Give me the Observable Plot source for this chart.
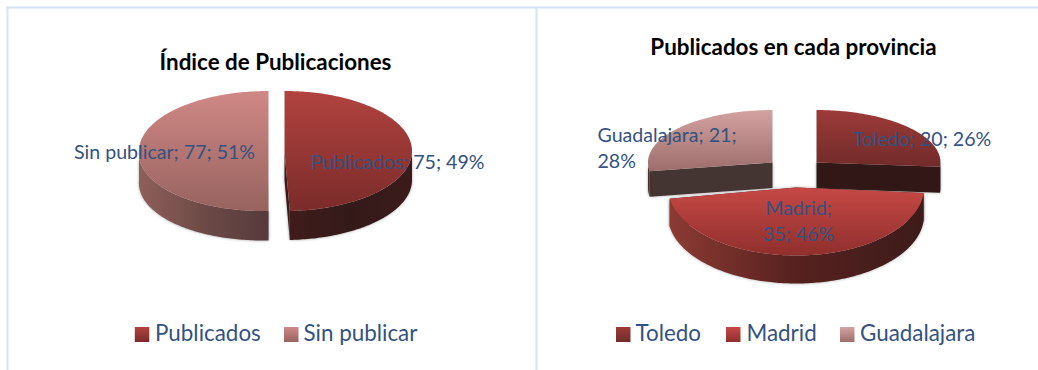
<!DOCTYPE html>
<html><head><meta charset="utf-8">
<script src="https://cdn.jsdelivr.net/npm/d3@7"></script>
<script src="https://cdn.jsdelivr.net/npm/@observablehq/plot@0.6"></script>
<style>
html,body{margin:0;padding:0;background:#fff;overflow:hidden}
svg{display:block}
.wall{filter:drop-shadow(0 0 1.5px rgba(60,50,50,.45))}
</style></head><body><div id="chart"></div>
<script>
// ---- data ----
const indexCategories = ["Publicados", "Sin publicar"];
const indexValues = [75, 77];
const provinceCategories = ["Toledo", "Madrid", "Guadalajara"];
const provinceValues = [20, 35, 21];
const titles = ["Índice de Publicaciones", "Publicados en cada provincia"];

// ---- layout ----
const W = 1038, H = 370;
const indexLayout = [
  {cx:284, cy:150.5, rx:127.5, ry:60, depth:29, skew:0},
  {cx:268, cy:150.5, rx:129.5, ry:60, depth:29.5, skew:-5.3}
];
const provinceLayout = [
  {cx:816, cy:162, rx:124, ry:52.5, depth:26, skew:0},
  {cx:795.5, cy:187, rx:128, ry:68, depth:28, skew:0},
  {cx:772, cy:162, rx:124.5, ry:52.5, depth:25.5, skew:0}
];
const indexPaint = [
  {top:["#b2433f","#7a2b2a"], wall:["#3f1c1b","#331a19","#3b1b1a"], cut:"#3a1a19"},
  {top:["#d08885","#97635f"], wall:["#8f5f5a","#6d4a47","#553b3b"], cut:"#6d4a47"}
];
const provincePaint = [
  {top:["#9c3b38","#712b2a"], wall:["#311816","#321917","#2f1715"], cut:"#311816"},
  {top:["#c64845","#8f2f2d"], wall:["#8c3a33","#56211e","#3c1c1a"], cut:"#56211e"},
  {top:["#d4a3a1","#9c6d6b"], wall:["#443432","#443432","#443432"], cut:"#443432"}
];
const legendItems = [
  {group:0, i:0, x:134.8, tx:154.5},
  {group:0, i:1, x:284, tx:303},
  {group:1, i:0, x:616, tx:635},
  {group:1, i:1, x:726, tx:746},
  {group:1, i:2, x:840, tx:859.5}
];
const dataLabelLayout = [
  [{x:310, y:160.5, a:"start", wrap:false}, {x:73.5, y:150, a:"start", wrap:false}],
  [{x:852, y:137.5, a:"start", wrap:false}, {x:798, y:219.5, a:"middle", wrap:"Madrid"}, {x:597, y:146.5, a:"start", wrap:"Guadalajara"}]
];
const LABEL = "#34527f";
const RAD = Math.PI/180;

// ---- geometry from the values ----
const pie = d3.pie().sort(null).startAngle(0).endAngle(2*Math.PI);
function project(s, a, dy=0) {
  const y = s.cy - s.ry*Math.cos(a);
  const x = s.cx + s.rx*Math.sin(a) + (y > s.cy ? s.skew*(y - s.cy)/s.ry : 0);
  return {x, y: y + dy};
}
function arcPts(s, a0, a1, dy=0) {
  const n = Math.max(2, Math.ceil(Math.abs(a1-a0)/RAD));
  return d3.range(n+1).map(k => project(s, a0+(a1-a0)*k/n, dy));
}
function sliceShapes(vals, layout, paint, prefix) {
  return pie(vals).map((p,i) => {
    const s = layout[i], c = {x:s.cx, y:s.cy};
    const down = q => ({x:q.x, y:q.y+s.depth});
    const top = [c, ...arcPts(s,p.startAngle,p.endAngle)];
    const cut = a => { const e = project(s,a); return [c,e,down(e),down(c)]; };
    const f0 = Math.max(p.startAngle, Math.PI/2), f1 = Math.min(p.endAngle, 3*Math.PI/2);
    const wall = f1 > f0 ? [...arcPts(s,f0,f1), ...arcPts(s,f1,f0,s.depth)] : null;
    return {id:`${prefix}${i}`, top, cuts:[cut(p.startAngle),cut(p.endAngle)], wall, paint:paint[i]};
  });
}
const indexShapes = sliceShapes(indexValues, indexLayout, indexPaint, "a");
const provinceShapes = sliceShapes(provinceValues, provinceLayout, provincePaint, "b");
const allShapes = [...indexShapes, ...provinceShapes];

function defsMark() {
  const defs = d3.create("svg:defs");
  for (const g of allShapes) {
    const t = defs.append("linearGradient").attr("id",`${g.id}t`).attr("x1",0).attr("y1",0).attr("x2",0).attr("y2",1);
    t.append("stop").attr("offset",0).attr("stop-color",g.paint.top[0]);
    t.append("stop").attr("offset",1).attr("stop-color",g.paint.top[1]);
    const w = defs.append("linearGradient").attr("id",`${g.id}w`).attr("x1",0).attr("y1",0).attr("x2",1).attr("y2",0);
    g.paint.wall.forEach((c,k)=> w.append("stop").attr("offset",k/2).attr("stop-color",c));
  }
  return defs.node();
}
const poly = (pts, fill, cls) => Plot.line(pts, {x:"x", y:"y", fill, stroke:"none", className:cls});
function sliceMarks(g) {
  return [
    ...g.cuts.map(c => poly(c, g.paint.cut, "wall")),
    g.wall ? poly(g.wall, `url(#${g.id}w)`, "wall") : null,
    poly(g.top, `url(#${g.id}t)`)
  ];
}
// back slices first, the front slice of the second pie last
const drawOrder = [indexShapes[1], indexShapes[0], provinceShapes[0], provinceShapes[2], provinceShapes[1]];

function labelRows(cats, vals, layout) {
  const total = d3.sum(vals);
  return cats.map((c,i) => {
    const pct = Math.round(vals[i]/total*100);
    const l = layout[i];
    const text = l.wrap === "Madrid" ? `${c};\n${vals[i]}; ${pct}%`
               : l.wrap === "Guadalajara" ? `${c}; ${vals[i]};\n${pct}%`
               : `${c}; ${vals[i]}; ${pct}%`;
    return {text, x:l.x, y:l.y, a:l.a};
  });
}
const labels = [...labelRows(indexCategories,indexValues,dataLabelLayout[0]),
                ...labelRows(provinceCategories,provinceValues,dataLabelLayout[1])];
const legendRows = legendItems.map(l => {
  const cats = l.group ? provinceCategories : indexCategories;
  const p = (l.group ? provinceShapes : indexShapes)[l.i];
  return {...l, label:cats[l.i], fill:`url(#${p.id}t)`};
});

const chart = Plot.plot({
  width:W, height:H, margin:0, axis:null,
  style:{background:"#fff", fontFamily:"Lato, sans-serif"},
  x:{type:"linear", domain:[0,W], range:[0,W]},
  y:{type:"linear", domain:[0,H], range:[0,H]},
  marks:[
    defsMark,
    Plot.ruleX([7,536], {y1:7, y2:H, stroke:"#d5e3f3", strokeWidth:2}),
    Plot.ruleY([7], {x1:6, x2:W, stroke:"#d5e3f3", strokeWidth:2}),
    ...drawOrder.flatMap(sliceMarks),
    Plot.text([titles[0]], {x:()=>275, y:()=>62, text:d=>d, fontSize:22.4, fontWeight:700, fill:"#000"}),
    Plot.text([titles[1]], {x:()=>793, y:()=>47, text:d=>d, fontSize:22.4, fontWeight:700, fill:"#000"}),
    Plot.text(labels.filter(d=>d.a==="start"), {x:"x", y:"y", text:"text", textAnchor:"start", fontSize:19.6, lineHeight:1.33, fill:LABEL}),
    Plot.text(labels.filter(d=>d.a==="middle"), {x:"x", y:"y", text:"text", textAnchor:"middle", fontSize:19.6, lineHeight:1.33, fill:LABEL}),
    ...legendRows.map(d => Plot.rect([d], {x1:"x", x2:v=>v.x+14.5, y1:()=>327, y2:()=>342, fill:d.fill})),
    Plot.text(legendRows, {x:"tx", y:()=>333.5, text:"label", textAnchor:"start", fontSize:22.4, fill:LABEL})
  ]
});
document.getElementById("chart").append(chart);
</script></body></html>
